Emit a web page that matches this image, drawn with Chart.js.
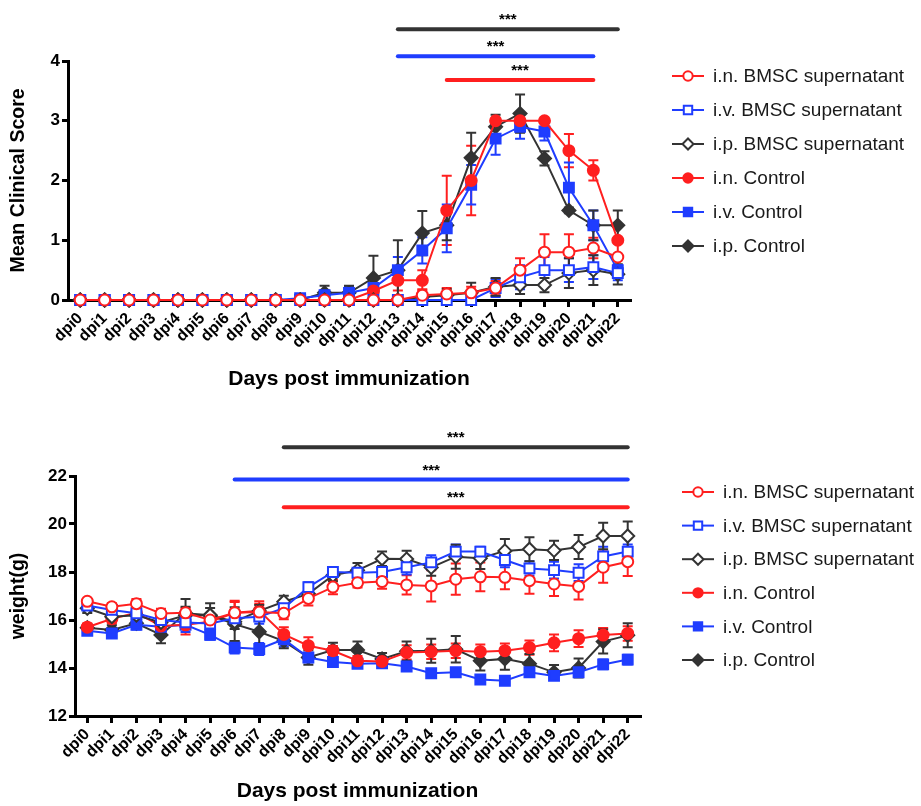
<!DOCTYPE html>
<html>
<head>
<meta charset="utf-8">
<script src="https://cdn.jsdelivr.net/npm/chart.js@4.4.0/dist/chart.umd.min.js"></script>
<style>
    body { margin: 0; background: #fff; }
    canvas { display: block; }
</style>
</head>
<body>
<canvas id="scoreChart" width="921" height="400"></canvas>
<canvas id="weightChart" width="921" height="406"></canvas>
<script>
const dayLabels = ['dpi0', 'dpi1', 'dpi2', 'dpi3', 'dpi4', 'dpi5', 'dpi6', 'dpi7', 'dpi8', 'dpi9', 'dpi10',
    'dpi11', 'dpi12', 'dpi13', 'dpi14', 'dpi15', 'dpi16', 'dpi17', 'dpi18', 'dpi19', 'dpi20', 'dpi21', 'dpi22'];
const seriesNames = ['i.n. BMSC supernatant', 'i.v. BMSC supernatant', 'i.p. BMSC supernatant',
    'i.n. Control', 'i.v. Control', 'i.p. Control'];

// clinical score (mean)
const scoreInBmsc = [0, 0, 0, 0, 0, 0, 0, 0, 0, 0, 0, 0, 0, 0, 0.08, 0.1, 0.12, 0.2, 0.5, 0.8, 0.8, 0.87, 0.72];
const scoreIvBmsc = [0, 0, 0, 0, 0, 0, 0, 0, 0, 0, 0, 0, 0, 0, 0, 0, 0, 0.2, 0.38, 0.5, 0.5, 0.55, 0.45];
const scoreIpBmsc = [0, 0, 0, 0, 0, 0, 0, 0, 0, 0, 0, 0, 0, 0, 0.05, 0.08, 0.12, 0.22, 0.25, 0.25, 0.45, 0.5, 0.43];
const scoreInCtrl = [0, 0, 0, 0, 0, 0, 0, 0, 0, 0, 0, 0, 0.15, 0.33, 0.33, 1.5, 2.0, 3.0, 3.0, 3.0, 2.5, 2.17, 1.0];
const scoreIvCtrl = [0, 0, 0, 0, 0, 0, 0, 0, 0, 0.03, 0.08, 0.12, 0.2, 0.5, 0.83, 1.2, 1.93, 2.7, 2.9, 2.82, 1.88, 1.25, 0.5];
const scoreIpCtrl = [0, 0, 0, 0, 0, 0, 0, 0, 0, 0, 0.12, 0.12, 0.37, 0.5, 1.12, 1.25, 2.38, 2.9, 3.12, 2.37, 1.5, 1.25, 1.25];

// clinical score (SEM)
const scoreInBmscErr = [0, 0, 0, 0, 0, 0, 0, 0, 0, 0, 0, 0, 0, 0, 0.1, 0.1, 0.1, 0.12, 0.2, 0.3, 0.3, 0.17, 0.25];
const scoreIvBmscErr = [0, 0, 0, 0, 0, 0, 0, 0, 0, 0, 0, 0, 0, 0, 0, 0, 0, 0.15, 0.2, 0.22, 0.2, 0.2, 0.12];
const scoreIpBmscErr = [0, 0, 0, 0, 0, 0, 0, 0, 0, 0, 0, 0, 0, 0, 0.05, 0.1, 0.17, 0.15, 0.15, 0.12, 0.25, 0.25, 0.17];
const scoreInCtrlErr = [0, 0, 0, 0, 0, 0, 0, 0, 0, 0, 0, 0, 0.1, 0.17, 0.17, 0.58, 0.58, 0, 0, 0, 0.28, 0.17, 0];
const scoreIvCtrlErr = [0, 0, 0, 0, 0, 0, 0, 0, 0, 0.03, 0.08, 0.1, 0.15, 0.22, 0.22, 0.4, 0.33, 0.27, 0.2, 0.15, 0.42, 0.25, 0.08];
const scoreIpCtrlErr = [0, 0, 0, 0, 0, 0, 0, 0, 0, 0, 0.12, 0.12, 0.37, 0.5, 0.37, 0.25, 0.42, 0.2, 0.32, 0.12, 0.05, 0.25, 0.25];

// body weight in g (mean)
const weightInBmsc = [16.78, 16.55, 16.68, 16.27, 16.3, 16.0, 16.3, 16.33, 16.28, 16.9, 17.37, 17.55, 17.6, 17.46, 17.42, 17.7, 17.8, 17.78, 17.64, 17.5, 17.4, 18.2, 18.43];
const weightIvBmsc = [16.6, 16.42, 16.28, 16.0, 15.9, 15.85, 16.07, 16.14, 16.49, 17.37, 18.0, 17.97, 18.0, 18.2, 18.4, 18.85, 18.85, 18.5, 18.15, 18.08, 17.97, 18.65, 18.85];
const weightIpBmsc = [16.49, 16.14, 16.2, 15.9, 16.2, 16.2, 15.93, 16.38, 16.76, 17.09, 17.86, 18.07, 18.55, 18.54, 18.19, 18.64, 18.57, 18.88, 18.95, 18.9, 19.04, 19.5, 19.5];
const weightInCtrl = [15.7, 16.05, 16.3, 15.75, 15.8, 15.93, 16.3, 16.38, 15.4, 14.93, 14.72, 14.3, 14.27, 14.65, 14.68, 14.72, 14.68, 14.72, 14.85, 15.05, 15.22, 15.37, 15.44];
const weightIvCtrl = [15.55, 15.44, 15.8, 15.72, 15.8, 15.38, 14.85, 14.79, 15.2, 14.44, 14.25, 14.18, 14.2, 14.06, 13.78, 13.82, 13.52, 13.47, 13.82, 13.67, 13.82, 14.15, 14.35];
const weightIpCtrl = [15.68, 15.58, 15.86, 15.38, 16.28, 16.2, 15.83, 15.51, 15.12, 14.44, 14.75, 14.75, 14.38, 14.7, 14.72, 14.78, 14.3, 14.38, 14.18, 13.82, 14.0, 15.1, 15.36];

// body weight (SEM)
const weightInBmscErr = [0.1, 0.15, 0.2, 0.2, 0.2, 0.25, 0.45, 0.35, 0.25, 0.3, 0.3, 0.2, 0.3, 0.4, 0.65, 0.65, 0.6, 0.5, 0.55, 0.5, 0.55, 0.65, 0.6];
const weightIvBmscErr = [0.1, 0.15, 0.15, 0.2, 0.2, 0.2, 0.25, 0.3, 0.2, 0.2, 0.2, 0.2, 0.2, 0.3, 0.3, 0.3, 0.2, 0.3, 0.3, 0.35, 0.35, 0.4, 0.3];
const weightIpBmscErr = [0.2, 0.2, 0.2, 0.25, 0.35, 0.3, 0.3, 0.25, 0.25, 0.3, 0.25, 0.3, 0.3, 0.35, 0.35, 0.5, 0.45, 0.5, 0.5, 0.4, 0.5, 0.55, 0.6];
const weightInCtrlErr = [0.15, 0.2, 0.2, 0.3, 0.4, 0.3, 0.5, 0.4, 0.3, 0.35, 0.2, 0.2, 0.15, 0.3, 0.3, 0.3, 0.3, 0.3, 0.3, 0.35, 0.35, 0.3, 0.3];
const weightIvCtrlErr = [0.15, 0.15, 0.2, 0.2, 0.3, 0.2, 0.25, 0.25, 0.3, 0.2, 0.15, 0.15, 0.15, 0.15, 0.1, 0.15, 0.12, 0.12, 0.15, 0.12, 0.15, 0.2, 0.2];
const weightIpCtrlErr = [0.15, 0.2, 0.2, 0.35, 0.6, 0.5, 0.7, 0.6, 0.3, 0.3, 0.3, 0.35, 0.25, 0.4, 0.5, 0.55, 0.4, 0.45, 0.4, 0.3, 0.4, 0.5, 0.5];

// significance bars: start day, end day, height in axis units
const scoreSigStart = [13, 13, 15];
const scoreSigEnd = [22, 21, 21];
const scoreSigLevel = [4.53, 4.08, 3.68];
const weightSigStart = [8, 6, 8];
const weightSigEnd = [22, 22, 22];
const weightSigLevel = [23.2, 21.85, 20.7];
const sigText = '***';

const RED = '#ff1f1f';
const BLUE = '#1f3dff';
const DARK = '#333333';
const FONT = "'Liberation Sans', Arial, sans-serif";
const seriesColors = [RED, BLUE, DARK, RED, BLUE, DARK];
const seriesShapes = ['circle', 'rect', 'rectRot', 'circle', 'rect', 'rectRot'];
const seriesFilled = [false, false, false, true, true, true];
const shapeRadius = { circle: 5.5, rect: 7, rectRot: 6.5 };
const sigColors = [DARK, BLUE, RED];

Chart.defaults.font.family = FONT;

function makeDatasets(values, errors) {
    return values.map((data, i) => ({
        label: seriesNames[i],
        data: data,
        errors: errors[i],
        borderColor: seriesColors[i],
        backgroundColor: seriesFilled[i] ? seriesColors[i] : '#ffffff',
        pointStyle: seriesShapes[i],
        pointRadius: shapeRadius[seriesShapes[i]],
        pointBorderWidth: 2,
        borderWidth: 2,
        tension: 0,
        clip: false
    }));
}

function drawMarker(ctx, shape, x, y, r, stroke, fill) {
    ctx.save();
    ctx.beginPath();
    if (shape === 'circle') {
        ctx.arc(x, y, r, 0, Math.PI * 2);
    } else if (shape === 'rect') {
        const h = r * Math.SQRT1_2;
        ctx.rect(x - h, y - h, 2 * h, 2 * h);
    } else {
        ctx.moveTo(x, y - r);
        ctx.lineTo(x + r, y);
        ctx.lineTo(x, y + r);
        ctx.lineTo(x - r, y);
        ctx.closePath();
    }
    ctx.fillStyle = fill;
    ctx.fill();
    ctx.lineWidth = 2;
    ctx.strokeStyle = stroke;
    ctx.stroke();
    ctx.restore();
}

const errorBarPlugin = {
    id: 'errorBars',
    beforeDatasetsDraw(chart) {
        const ctx = chart.ctx;
        const yScale = chart.scales.y;
        chart.data.datasets.forEach((ds, i) => {
            const meta = chart.getDatasetMeta(i);
            ctx.save();
            ctx.strokeStyle = ds.borderColor;
            ctx.lineWidth = 2;
            meta.data.forEach((pt, j) => {
                const err = ds.errors[j];
                if (!err) return;
                const top = yScale.getPixelForValue(ds.data[j] + err);
                const bottom = yScale.getPixelForValue(ds.data[j] - err);
                ctx.beginPath();
                ctx.moveTo(pt.x, top);
                ctx.lineTo(pt.x, bottom);
                ctx.moveTo(pt.x - 5, top);
                ctx.lineTo(pt.x + 5, top);
                ctx.moveTo(pt.x - 5, bottom);
                ctx.lineTo(pt.x + 5, bottom);
                ctx.stroke();
            });
            ctx.restore();
        });
    }
};

function makeSigPlugin(starts, ends, levels) {
    return {
        id: 'sigBars',
        afterDraw(chart) {
            const { ctx, scales: { x, y } } = chart;
            starts.forEach((s, k) => {
                const x1 = x.getPixelForValue(s);
                const x2 = x.getPixelForValue(ends[k]);
                const yy = y.getPixelForValue(levels[k]);
                ctx.save();
                ctx.strokeStyle = sigColors[k];
                ctx.lineWidth = 4;
                ctx.lineCap = 'round';
                ctx.beginPath();
                ctx.moveTo(x1, yy);
                ctx.lineTo(x2, yy);
                ctx.stroke();
                ctx.fillStyle = '#000';
                ctx.font = 'bold 15px ' + FONT;
                ctx.textAlign = 'center';
                ctx.textBaseline = 'middle';
                ctx.fillText(sigText, (x1 + x2) / 2, yy - 9);
                ctx.restore();
            });
        }
    };
}

function makeLegendPlugin(cx, y0, step) {
    return {
        id: 'sideLegend',
        afterDraw(chart) {
            const ctx = chart.ctx;
            chart.data.datasets.forEach((ds, i) => {
                const cy = y0 + i * step;
                ctx.save();
                ctx.strokeStyle = ds.borderColor;
                ctx.lineWidth = 2;
                ctx.beginPath();
                ctx.moveTo(cx - 16, cy);
                ctx.lineTo(cx + 16, cy);
                ctx.stroke();
                drawMarker(ctx, ds.pointStyle, cx, cy, ds.pointRadius * 0.85, ds.borderColor, ds.backgroundColor);
                ctx.fillStyle = '#1a1a1a';
                ctx.font = '19px ' + FONT;
                ctx.textAlign = 'left';
                ctx.textBaseline = 'middle';
                ctx.fillText(ds.label, cx + 25, cy + 1);
                ctx.restore();
            });
        }
    };
}

function axisOptions(yMin, yMax, yStep, yTitle, yWidth, xHeight, xTitlePad) {
    return {
        x: {
            type: 'category',
            offset: true,
            ticks: {
                color: '#000', autoSkip: false, maxRotation: 45, minRotation: 45, padding: 2,
                font: { size: 16, weight: 'bold' }
            },
            grid: { drawOnChartArea: false, drawTicks: true, tickLength: 7, lineWidth: 3, color: '#000' },
            border: { width: 3, color: '#000' },
            title: {
                display: true, text: 'Days post immunization', color: '#000',
                font: { size: 21, weight: 'bold' }, padding: { top: 0, bottom: xTitlePad }
            },
            afterFit(scale) { scale.height = xHeight; }
        },
        y: {
            min: yMin,
            max: yMax,
            ticks: { stepSize: yStep, color: '#000', padding: 2, font: { size: 17, weight: 'bold' } },
            grid: { drawOnChartArea: false, drawTicks: true, tickLength: 6, lineWidth: 3, color: '#000' },
            border: { width: 3, color: '#000' },
            title: {
                display: true, text: yTitle, color: '#000',
                font: { size: 19.5, weight: 'bold' }, padding: { top: 7, bottom: 0 }
            },
            afterFit(scale) { scale.width = yWidth; }
        }
    };
}

new Chart(document.getElementById('scoreChart').getContext('2d'), {
    type: 'line',
    data: {
        labels: dayLabels,
        datasets: makeDatasets(
            [scoreInBmsc, scoreIvBmsc, scoreIpBmsc, scoreInCtrl, scoreIvCtrl, scoreIpCtrl],
            [scoreInBmscErr, scoreIvBmscErr, scoreIpBmscErr, scoreInCtrlErr, scoreIvCtrlErr, scoreIpCtrlErr]
        )
    },
    options: {
        responsive: false,
        animation: false,
        layout: { padding: { left: 0, top: 61, right: 291, bottom: 0 } },
        plugins: { legend: { display: false }, tooltip: { enabled: false } },
        scales: axisOptions(0, 4, 1, 'Mean Clinical Score', 68, 100, 8)
    },
    plugins: [errorBarPlugin, makeSigPlugin(scoreSigStart, scoreSigEnd, scoreSigLevel), makeLegendPlugin(688, 76, 34)]
});

new Chart(document.getElementById('weightChart').getContext('2d'), {
    type: 'line',
    data: {
        labels: dayLabels,
        datasets: makeDatasets(
            [weightInBmsc, weightIvBmsc, weightIpBmsc, weightInCtrl, weightIvCtrl, weightIpCtrl],
            [weightInBmscErr, weightIvBmscErr, weightIpBmscErr, weightInCtrlErr, weightIvCtrlErr, weightIpCtrlErr]
        )
    },
    options: {
        responsive: false,
        animation: false,
        layout: { padding: { left: 0, top: 76, right: 281, bottom: 0 } },
        plugins: { legend: { display: false }, tooltip: { enabled: false } },
        scales: axisOptions(12, 22, 2, 'weight(g)', 75, 90, 2)
    },
    plugins: [errorBarPlugin, makeSigPlugin(weightSigStart, weightSigEnd, weightSigLevel), makeLegendPlugin(698, 92, 33.6)]
});
</script>
</body>
</html>
